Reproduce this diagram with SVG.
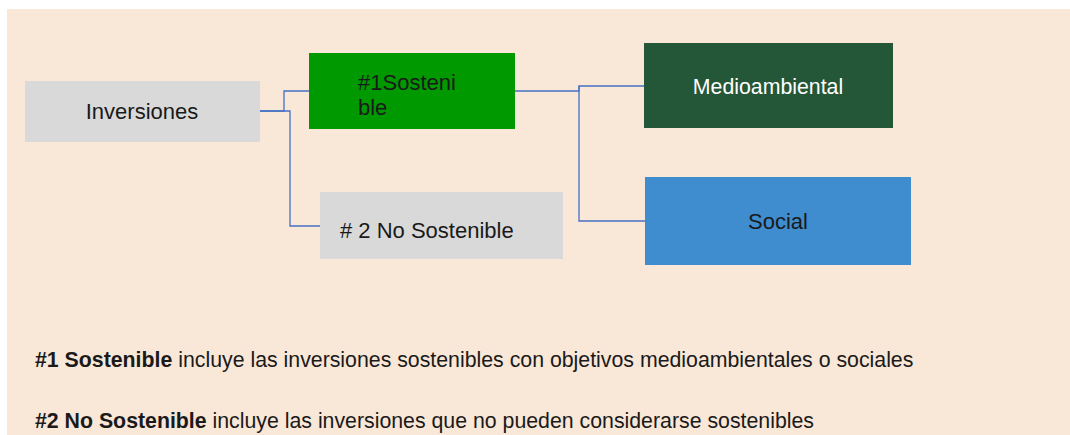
<svg xmlns="http://www.w3.org/2000/svg" width="1070" height="435" viewBox="0 0 1070 435">
<style>
text{font-family:"Liberation Sans",Arial,sans-serif;font-size:22px;fill:#1a1a1a}
.c{fill:none;stroke:#4472C4;stroke-width:1.3}
.note{font-size:21.3px}
.b{font-weight:bold}
</style>
<rect x="0" y="0" width="1070" height="435" fill="#ffffff"/>
<rect x="7" y="9" width="1063" height="426" fill="#F9E7D7"/>
<g id="connectors">
<polyline class="c" points="260,111 284,111 284,91 309,91"/>
<polyline class="c" points="260,111 290,111 290,226 320,226"/>
<polyline class="c" points="515,91 579,91 579,86 644,86"/>
<polyline class="c" points="579,86 579,221 645,221"/>
</g>
<g id="inversiones">
<rect x="25" y="81" width="235" height="61" fill="#D9D9D9"/>
<text x="142" y="119" text-anchor="middle">Inversiones</text>
</g>
<g id="sostenible">
<rect x="309" y="53" width="206" height="76" fill="#009900"/>
<text x="358" y="90">#1Sosteni</text>
<text x="358" y="115">ble</text>
</g>
<g id="no-sostenible">
<rect x="320" y="192" width="243" height="67" fill="#D9D9D9"/>
<text x="340" y="238">#&#160;2 No Sostenible</text>
</g>
<g id="medioambiental">
<rect x="644" y="43" width="249" height="85" fill="#245738"/>
<text x="768" y="94" text-anchor="middle" style="fill:#ffffff;font-size:21.3px">Medioambiental</text>
</g>
<g id="social">
<rect x="645" y="177" width="266" height="88" fill="#3F8CCF"/>
<text x="778" y="229" text-anchor="middle">Social</text>
</g>
<g id="notes">
<text class="note" x="35" y="367"><tspan class="b">#1 Sostenible</tspan> incluye las inversiones sostenibles con objetivos medioambientales o sociales</text>
<text class="note" x="35" y="428"><tspan class="b">#2 No Sostenible</tspan> incluye las inversiones que no pueden considerarse sostenibles</text>
</g>
</svg>
